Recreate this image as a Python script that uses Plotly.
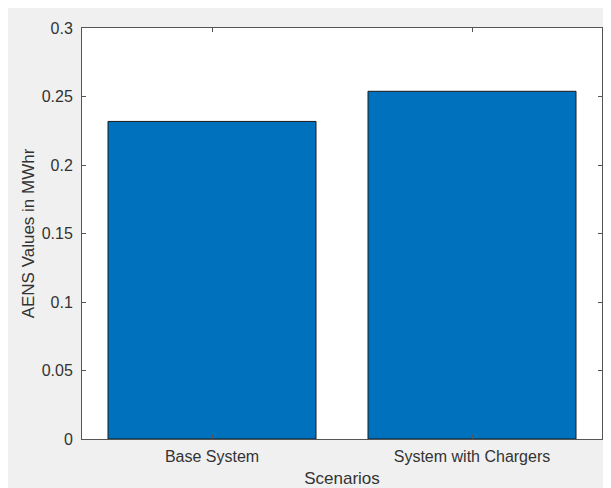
import plotly.graph_objects as go

categories = ["Base System", "System with Chargers"]
aens_values = [0.2318, 0.2538]
y_ticks = [0, 0.05, 0.1, 0.15, 0.2, 0.25, 0.3]
y_tick_labels = ["0", "0.05", "0.1", "0.15", "0.2", "0.25", "0.3"]

# page body has an 8px margin, so the figure starts at (8, 8)
W, H = 603, 480
ML, MR, MT, MB = 74, 9, 20, 49

fig = go.Figure()
fig.add_trace(go.Bar(
    x=[1, 2], y=aens_values, width=0.8,
    marker=dict(color="#0072BD", line=dict(color="#1a1a1a", width=1)),
    hoverinfo="skip",
))

font_fam = "Liberation Sans, Arial, sans-serif"
axis_common = dict(
    showline=True, linecolor="#555555", linewidth=1, mirror="ticks",
    ticks="inside", ticklen=4, tickcolor="#555555", showgrid=False,
    zeroline=False, automargin=False,
    tickfont=dict(family=font_fam, size=16, color="#333333"),
)

fig.update_layout(
    width=W, height=H,
    margin=dict(l=ML, r=MR, t=MT, b=MB, pad=0),
    paper_bgcolor="#f0f0f0", plot_bgcolor="#ffffff",
    showlegend=False, bargap=0.2,
    xaxis=dict(
        range=[0.5, 2.5], tickvals=[1, 2], ticktext=categories,
        ticklabelstandoff=3,
        title=dict(text="Scenarios", font=dict(family=font_fam, size=17, color="#333333"), standoff=8),
        **axis_common,
    ),
    yaxis=dict(
        range=[0, 0.3], tickvals=y_ticks, ticktext=y_tick_labels,
        ticklabelstandoff=5,
        title=dict(text="AENS Values in MWhr", font=dict(family=font_fam, size=17, color="#333333"), standoff=2),
        **axis_common,
    ),
)

fig.write_html("out.html")
